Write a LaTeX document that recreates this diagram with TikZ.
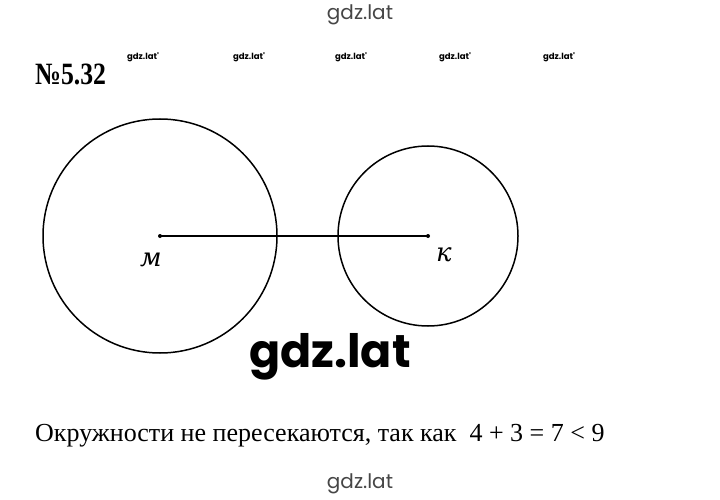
\documentclass[tikz,border=0pt]{standalone}
\usepackage{fontspec}
\setmainfont{Liberation Serif}
\newfontfamily\wmfont{Poppins}
\newfontfamily\handfont{DejaVu Serif}
\definecolor{wmgray}{RGB}{70,70,70}

\begin{document}
\begin{tikzpicture}[
    x=1pt, y=-1pt,
    circ/.style={draw, line width=1.5pt},
    segment/.style={line width=2pt},
    centre/.style={circle, fill=black, inner sep=0pt, minimum size=4pt},
    lbl/.style={font=\handfont\itshape\fontsize{26}{26}\selectfont},
    wmtop/.style={font=\wmfont\fontsize{20}{20}\selectfont, text=wmgray},
    wmsmall/.style={font=\wmfont\bfseries\fontsize{8.5}{8.5}\selectfont},
    wmbig/.style={font=\wmfont\bfseries\fontsize{46}{46}\selectfont},
    answer/.style={font=\fontsize{26}{26}\selectfont, anchor=base west}
]

% Background
\fill[white] (0,0) rectangle (720,500);
\useasboundingbox (0,0) rectangle (720,500);

% Watermarks
\node[wmtop] (wmtop) at (360,15) {gdz.lat};
\node[wmtop] (wmbottom) at (360,484) {gdz.lat};
\node[wmsmall] (wm1) at (143,57) {gdz.lat'};
\node[wmsmall] (wm2) at (249,57) {gdz.lat'};
\node[wmsmall] (wm3) at (351,57) {gdz.lat'};
\node[wmsmall] (wm4) at (455,57) {gdz.lat'};
\node[wmsmall] (wm5) at (559,57) {gdz.lat'};

% Title
\node[font=\bfseries\fontsize{31}{31}\selectfont, anchor=base west, inner sep=0pt] (title) at (35,85) {\scalebox{0.83}[1]{№5.32}};

% Centres
\coordinate (M) at (160,236);
\coordinate (K) at (428,236);

% Circles
\draw[circ] (M) circle (117pt);
\draw[circ] (K) circle (90pt);

% Segment MK
\draw[segment] (M) -- (K);
\node[centre] (dotM) at (M) {};
\node[centre] (dotK) at (K) {};

% Labels
\node[lbl] (labM) at (151,260) {м};
\node[lbl] (labK) at (444,255) {к};

% Big watermark
\node[wmbig] (wmbig) at (330,357) {gdz.lat};

% Answer
\node[answer, inner sep=0pt] (answer) at (35,441) {Окружности не пересекаются, так как \ 4 + 3 = 7 < 9};

\end{tikzpicture}
\end{document}
